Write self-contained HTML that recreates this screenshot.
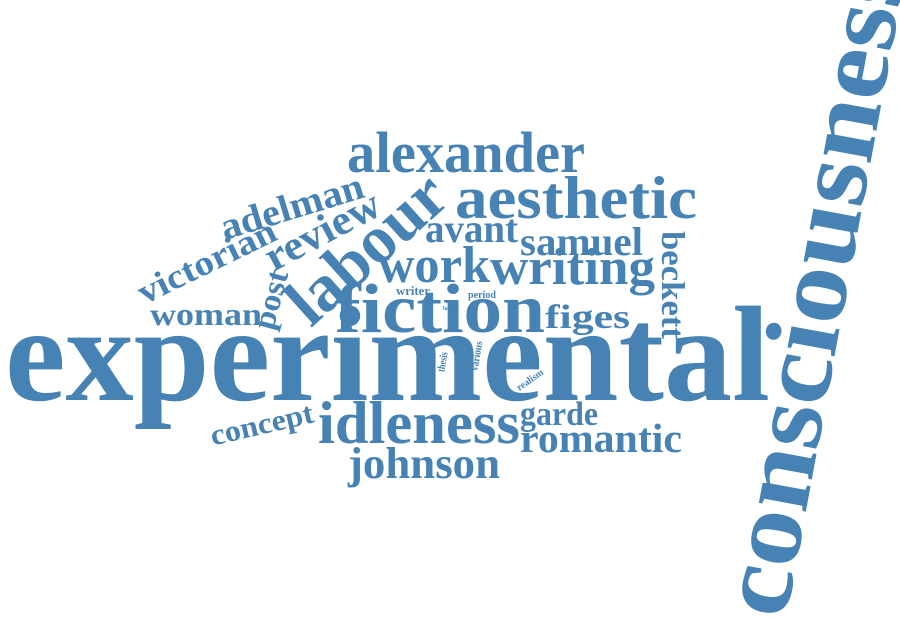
<!DOCTYPE html>
<html><head><meta charset="utf-8"><style>
html,body{margin:0;padding:0;background:#fff;width:900px;height:619px;overflow:hidden}
svg text{font-family:"Liberation Serif",serif;font-weight:bold;fill:#4682b4}
</style></head><body>
<svg width="900" height="619" viewBox="0 0 900 619">
<text x="5" y="400" font-size="136" textLength="765" lengthAdjust="spacingAndGlyphs">experimental</text>
<text transform="translate(762,616) rotate(-79.5)" x="0" y="24" font-size="104" textLength="665" lengthAdjust="spacingAndGlyphs">consciousness</text>
<text x="347" y="172" font-size="58" textLength="238" lengthAdjust="spacingAndGlyphs">alexander</text>
<text x="455" y="218" font-size="60" textLength="242" lengthAdjust="spacingAndGlyphs">aesthetic</text>
<text transform="translate(368,250) rotate(-42)" text-anchor="middle" x="0" y="20" font-size="68" textLength="190" lengthAdjust="spacingAndGlyphs">labour</text>
<text transform="translate(323,232) rotate(-28)" text-anchor="middle" x="0" y="12" font-size="42" textLength="125" lengthAdjust="spacingAndGlyphs">review</text>
<text transform="translate(292,207) rotate(-17)" text-anchor="middle" x="0" y="12" font-size="38" textLength="148" lengthAdjust="spacingAndGlyphs">adelman</text>
<text transform="translate(207,262) rotate(-26)" text-anchor="middle" x="0" y="11" font-size="35" textLength="150" lengthAdjust="spacingAndGlyphs">victorian</text>
<text x="425" y="242" font-size="40" textLength="93" lengthAdjust="spacingAndGlyphs">avant</text>
<text x="520" y="255" font-size="40" textLength="123" lengthAdjust="spacingAndGlyphs">samuel</text>
<text transform="translate(672,285) rotate(90)" text-anchor="middle" x="0" y="10" font-size="33" textLength="108" lengthAdjust="spacingAndGlyphs">beckett</text>
<text x="378" y="282" font-size="52" textLength="112" lengthAdjust="spacingAndGlyphs">work</text>
<text x="490" y="284" font-size="52" textLength="165" lengthAdjust="spacingAndGlyphs">writing</text>
<text transform="translate(272,300) rotate(-75)" text-anchor="middle" x="0" y="9" font-size="32" textLength="60" lengthAdjust="spacingAndGlyphs">post</text>
<text x="150" y="325" font-size="32" textLength="112" lengthAdjust="spacingAndGlyphs">woman</text>
<text x="335" y="332" font-size="70" textLength="210" lengthAdjust="spacingAndGlyphs">fiction</text>
<text x="545" y="328" font-size="34" textLength="85" lengthAdjust="spacingAndGlyphs">figes</text>
<text x="396" y="295" font-size="13" textLength="34" lengthAdjust="spacingAndGlyphs">writer</text>
<text x="468" y="298" font-size="11" textLength="28" lengthAdjust="spacingAndGlyphs">period</text>
<text x="443" y="310" font-size="6" textLength="9" lengthAdjust="spacingAndGlyphs">late</text>
<text transform="translate(443,362) rotate(-80)" text-anchor="middle" x="0" y="3" font-size="11" textLength="20" lengthAdjust="spacingAndGlyphs">thesis</text>
<text transform="translate(477,356) rotate(-80)" text-anchor="middle" x="0" y="3" font-size="11" textLength="30" lengthAdjust="spacingAndGlyphs">various</text>
<text transform="translate(530,380) rotate(-35)" text-anchor="middle" x="0" y="3" font-size="10" textLength="30" lengthAdjust="spacingAndGlyphs">realism</text>
<text transform="translate(262,425) rotate(-13)" text-anchor="middle" x="0" y="9" font-size="30" textLength="105" lengthAdjust="spacingAndGlyphs">concept</text>
<text x="318" y="443" font-size="60" textLength="202" lengthAdjust="spacingAndGlyphs">idleness</text>
<text x="520" y="425" font-size="34" textLength="78" lengthAdjust="spacingAndGlyphs">garde</text>
<text x="520" y="452" font-size="41" textLength="162" lengthAdjust="spacingAndGlyphs">romantic</text>
<text x="348" y="478" font-size="44" textLength="152" lengthAdjust="spacingAndGlyphs">johnson</text>
</svg>
</body></html>
